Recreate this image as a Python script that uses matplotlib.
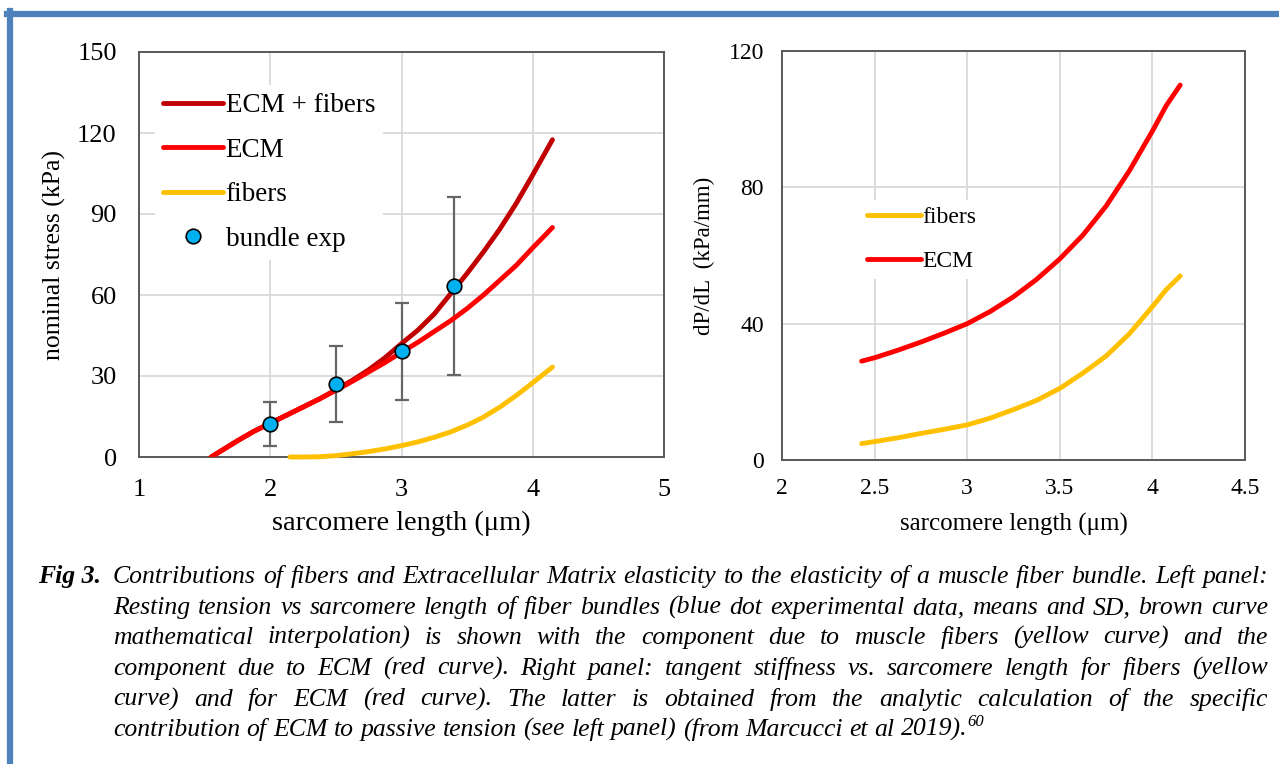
import numpy as np
import matplotlib.pyplot as plt
from matplotlib.font_manager import FontProperties
from matplotlib.lines import Line2D

plt.rcParams['font.family'] = 'Liberation Serif'
plt.rcParams['lines.solid_joinstyle'] = 'round'

# --- left panel: nominal stress vs sarcomere length ---
x_left = [1.55, 1.65, 1.75, 1.875, 2.0, 2.125, 2.25, 2.375, 2.5, 2.625, 2.75,
          2.875, 3.0, 3.125, 3.25, 3.375, 3.5, 3.625, 3.75, 3.875, 4.0, 4.075, 4.15]
ecm_left = [0, 3, 6, 9.5, 12.5, 15.5, 18.5, 21.5, 24.7, 28, 31.5,
            35, 38.8, 42.5, 46.5, 50.5, 55, 60, 65.5, 71, 77.5, 81.2, 85]
total_left = [0, 3, 6, 9.5, 12.5, 15.5, 18.5, 21.5, 24.9, 28.4, 32.3,
              36.8, 42, 47, 53, 60.5, 68, 76, 84.5, 94, 104.5, 111, 117.5]

x_fib_left = [2.15, 2.25, 2.375, 2.5, 2.625, 2.75, 2.875, 3.0, 3.125, 3.25,
              3.375, 3.5, 3.625, 3.75, 3.875, 4.0, 4.15]
fib_left = [0, 0, 0.1, 0.5, 1.2, 2, 3, 4.2, 5.6, 7.3,
            9.3, 11.8, 14.8, 18.5, 22.8, 27.5, 33.3]

exp_x = [2.0, 2.5, 3.0, 3.4]
exp_y = [12.2, 27, 39.2, 63.2]
exp_sd = [8, 14, 18, 33]

# --- right panel: dP/dL vs sarcomere length ---
x_right = [2.43, 2.5, 2.625, 2.75, 2.875, 3.0, 3.125, 3.25, 3.375, 3.5,
           3.625, 3.75, 3.875, 4.0, 4.075, 4.15]
ecm_right = [29, 30, 32.2, 34.6, 37.2, 40, 43.6, 47.9, 53, 59,
             66, 74.5, 84.8, 96.5, 104, 110]
fib_right = [4.8, 5.4, 6.5, 7.8, 9, 10.3, 12.3, 14.8, 17.5, 21,
             25.5, 30.5, 37, 45, 50, 54]

caption_lines = [
    "Contributions of fibers and Extracellular Matrix elasticity to the elasticity of a muscle fiber bundle. Left panel:",
    "Resting tension vs sarcomere length of fiber bundles (blue dot experimental data, means and SD, brown curve",
    "mathematical interpolation) is shown with the component due to muscle fibers (yellow curve) and the",
    "component due to ECM (red curve). Right panel: tangent stiffness vs. sarcomere length for fibers (yellow",
    "curve) and for ECM (red curve). The latter is obtained from the analytic calculation of the specific",
    "contribution of ECM to passive tension (see left panel) (from Marcucci et al 2019).",
]

RED = '#FF0000'
DARK = '#C00000'
YELLOW = '#FFC000'
BLUE = '#00B0F0'
GRID = '#D9D9D9'
SPINE = '#595959'

W, H = 1279, 764
fig = plt.figure(figsize=(W / 100, H / 100), dpi=100)


def box(x0, y0, x1, y1):
    # pixel box (top-left origin) -> figure fraction rect
    return [x0 / W, 1 - y1 / H, (x1 - x0) / W, (y1 - y0) / H]


def style(ax, size, pad):
    ax.grid(True, color=GRID, lw=1.3)
    ax.set_axisbelow(True)
    for s in ax.spines.values():
        s.set_color(SPINE)
        s.set_linewidth(1.4)
    ax.tick_params(length=0, labelsize=size, pad=pad)


# left panel
ax1 = fig.add_axes(box(139, 52, 664, 457))
ax1.errorbar(exp_x, exp_y, yerr=exp_sd, fmt='none', ecolor='#666666',
             elinewidth=1.6, capsize=5, capthick=1.6, zorder=2)
ax1.plot(x_left, total_left, color=DARK, lw=3.5, label='ECM + fibers',
         zorder=3, solid_capstyle='round')
ax1.plot(x_left, ecm_left, color=RED, lw=3.5, label='ECM', zorder=4,
         solid_capstyle='round')
ax1.plot(x_fib_left, fib_left, color=YELLOW, lw=3.5, label='fibers',
         zorder=4, clip_on=False, solid_capstyle='round')
ax1.plot(exp_x, exp_y, 'o', color=BLUE, mec='black', mew=1.2, ms=10.5,
         label='bundle exp', zorder=5)
ax1.set_xlim(1, 5)
ax1.set_ylim(0, 150)
ax1.set_xticks([1, 2, 3, 4, 5])
ax1.set_yticks(np.arange(0, 151, 30))
style(ax1, 19, 16)
ax1.set_xlabel('sarcomere length (\u03bcm)', fontsize=20.5, labelpad=7)
ax1.set_ylabel('nominal stress (kPa)', fontsize=18.5, labelpad=8)
ax1.legend(loc='upper left', bbox_to_anchor=(0.005, 0.952), fontsize=19.5,
           frameon=True, facecolor='white', edgecolor='none', framealpha=1,
           fancybox=False, handlelength=2.2, handletextpad=0.1,
           labelspacing=0.72, borderpad=0.3)

# right panel
ax2 = fig.add_axes(box(782, 51, 1245, 460))
ax2.plot(x_right, fib_right, color=YELLOW, lw=3.5, label='fibers',
         solid_capstyle='round')
ax2.plot(x_right, ecm_right, color=RED, lw=3.5, label='ECM',
         solid_capstyle='round')
ax2.set_xlim(2, 4.5)
ax2.set_ylim(0, 120)
ax2.set_xticks([2, 2.5, 3, 3.5, 4, 4.5])
ax2.set_xticklabels(['2', '2.5', '3', '3.5', '4', '4.5'])
ax2.set_yticks([0, 40, 80, 120])
style(ax2, 17, 13)
ax2.set_xlabel('sarcomere length (\u03bcm)', fontsize=18, labelpad=10)
ax2.set_ylabel('dP/dL  (kPa/mm)', fontsize=16.5, labelpad=10)
ax2.legend(loc='upper left', bbox_to_anchor=(0.142, 0.665), fontsize=17,
           frameon=True, facecolor='white', edgecolor='none', framealpha=1,
           fancybox=False, handlelength=2.3, handletextpad=0.05,
           labelspacing=0.95, borderpad=0.3)

# blue frame
frame_col = '#4F81BD'
fig.add_artist(Line2D([7 / W, 1], [1 - 14 / H, 1 - 14 / H], color=frame_col,
                      lw=4.5, transform=fig.transFigure))
fig.add_artist(Line2D([10 / W, 10 / W], [1 - 11 / H, 0], color=frame_col,
                      lw=4.5, transform=fig.transFigure))

# caption, justified like the source
renderer = fig.canvas.get_renderer()


def width(s, prop):
    t = fig.text(0, 0, s, fontproperties=prop)
    w = t.get_window_extent(renderer).width
    t.remove()
    return w


x_start, x_end = 113, 1268
# size the caption so the first (tight) line just fills the column
probe = FontProperties(family='Liberation Serif', style='italic', size=10)
cap_size = 10 * (x_end - x_start) / width(caption_lines[0], probe) * 0.995
fp = FontProperties(family='Liberation Serif', style='italic', size=cap_size)
fp_bold = FontProperties(family='Liberation Serif', style='italic',
                         weight='bold', size=cap_size)

fig.text(38 / W, 1 - 583 / H, 'Fig 3.', fontproperties=fp_bold,
         va='baseline')
space = width('a b', fp) - width('ab', fp)
baselines = [583, 614, 644, 675, 706, 736]
for i, (line, yb) in enumerate(zip(caption_lines, baselines)):
    words = line.split(' ')
    ws = [width(w, fp) for w in words]
    last = i == len(caption_lines) - 1
    gap = space if last else (x_end - x_start - sum(ws)) / (len(words) - 1)
    x = x_start
    for w, ww in zip(words, ws):
        fig.text(x / W, 1 - yb / H, w, fontproperties=fp, va='baseline')
        x += ww + gap
    if last:
        fig.text((x - gap) / W, 1 - (yb - 10) / H, '60',
                 fontproperties=FontProperties(family='Liberation Serif',
                                               style='italic', size=12),
                 va='baseline')

fig.savefig('out.png', dpi=100)
